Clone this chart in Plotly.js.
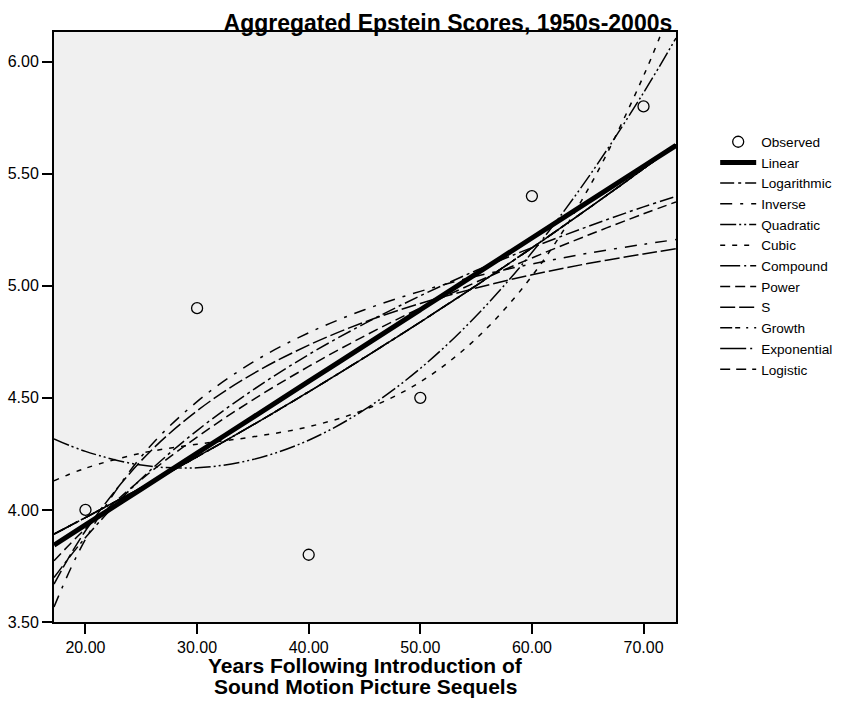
<!DOCTYPE html>
<html>
<head>
<meta charset="utf-8">
<script src="https://cdn.plot.ly/plotly-3.0.1.min.js"></script>
<style>html,body{margin:0;padding:0;background:#fff;}#chart{width:846px;height:704px;}</style>
</head>
<body>
<div id="chart"></div>
<script>
// Observed data
const xObs = [20, 30, 40, 50, 60, 70];
const yObs = [4.0, 4.9, 3.8, 4.5, 5.4, 5.8];

// Fitted curves, read at these x positions
const xFit = [17.18, 20, 25, 30, 35, 40, 45, 50, 55, 60, 65, 70, 72.91];
const yLinear      = [3.843, 3.933, 4.093, 4.253, 4.413, 4.573, 4.733, 4.893, 5.053, 5.213, 5.373, 5.533, 5.626];
const yLogarithmic = [3.698, 3.877, 4.139, 4.354, 4.535, 4.693, 4.831, 4.955, 5.068, 5.170, 5.264, 5.352, 5.399];
const yInverse     = [3.567, 3.869, 4.238, 4.483, 4.659, 4.790, 4.893, 4.975, 5.042, 5.097, 5.145, 5.185, 5.206];
const yQuadratic   = [4.317, 4.261, 4.200, 4.188, 4.225, 4.311, 4.447, 4.631, 4.865, 5.148, 5.480, 5.861, 6.105];
const yCubic       = [4.130, 4.186, 4.253, 4.293, 4.326, 4.371, 4.447, 4.571, 4.764, 5.043, 5.428, 5.936, 6.296];
const yCompound    = [3.892, 3.966, 4.099, 4.237, 4.379, 4.527, 4.680, 4.838, 5.001, 5.169, 5.343, 5.522, 5.630];
const yPower       = [3.773, 3.916, 4.136, 4.325, 4.491, 4.640, 4.776, 4.901, 5.016, 5.124, 5.225, 5.321, 5.374];
const yS           = [3.669, 3.907, 4.220, 4.442, 4.607, 4.735, 4.838, 4.921, 4.990, 5.049, 5.099, 5.142, 5.165];
const yGrowth      = [3.892, 3.966, 4.099, 4.237, 4.379, 4.527, 4.680, 4.838, 5.001, 5.169, 5.343, 5.522, 5.630];
const yExponential = [3.892, 3.966, 4.099, 4.237, 4.379, 4.527, 4.680, 4.838, 5.001, 5.169, 5.343, 5.522, 5.630];
const yLogistic    = [3.892, 3.966, 4.099, 4.237, 4.379, 4.527, 4.680, 4.838, 5.001, 5.169, 5.343, 5.522, 5.630];

const xTicks = [20, 30, 40, 50, 60, 70];
const yTicks = [3.5, 4.0, 4.5, 5.0, 5.5, 6.0];

const FONT = '"Liberation Sans", Arial, Helvetica, sans-serif';

const curves = [
  {name: 'Linear', y: yLinear, width: 5, dash: 'solid'},
  {name: 'Logarithmic', y: yLogarithmic, width: 1.5, dash: '14px,4px,3px,4px'},
  {name: 'Inverse', y: yInverse, width: 1.5, dash: '12px,8px,3px,8px'},
  {name: 'Quadratic', y: yQuadratic, width: 1.5, dash: '16px,3px,2px,3px,2px,3px'},
  {name: 'Cubic', y: yCubic, width: 1.5, dash: '5px,7px'},
  {name: 'Compound', y: yCompound, width: 1.5, dash: '20px,4px,2px,4px'},
  {name: 'Power', y: yPower, width: 1.5, dash: '10px,5px'},
  {name: 'S', y: yS, width: 1.5, dash: '15px,4px'},
  {name: 'Growth', y: yGrowth, width: 1.5, dash: '12px,3px,5px,6px,2px,6px'},
  {name: 'Exponential', y: yExponential, width: 1.5, dash: '26px,4px,2px,4px'},
  {name: 'Logistic', y: yLogistic, width: 1.5, dash: '10px,6px'}
];

const data = curves.map((c, i) => ({
  type: 'scatter', mode: 'lines', name: c.name, x: xFit, y: c.y,
  line: {color: '#000', width: c.width, dash: c.dash, shape: 'spline', smoothing: 1},
  legendrank: i + 2, hoverinfo: 'skip'
}));
data.push({
  type: 'scatter', mode: 'markers', name: 'Observed', x: xObs, y: yObs,
  marker: {symbol: 'circle-open', size: 11, color: '#000', line: {color: '#000', width: 1.3}},
  legendrank: 1
});

const layout = {
  width: 846, height: 704,
  paper_bgcolor: '#ffffff', plot_bgcolor: '#f0f0f0',
  margin: {l: 54, r: 170, t: 32, b: 82, autoexpand: false},
  font: {family: FONT, color: '#000', size: 15},
  title: {
    text: '<b>Aggregated Epstein Scores, 1950s-2000s</b>',
    font: {family: FONT, size: 23, color: '#000'},
    xref: 'paper', x: 0.994, xanchor: 'right',
    yref: 'container', y: 0.968, yanchor: 'middle'
  },
  xaxis: {
    range: [17.18, 72.91], tickvals: xTicks, tickformat: '.2f',
    ticks: 'outside', ticklen: 10, tickwidth: 2, tickcolor: '#000',
    showline: true, linecolor: '#000', linewidth: 2, mirror: true,
    showgrid: false, zeroline: false, tickfont: {size: 16, family: FONT},
    fixedrange: true, automargin: false
  },
  yaxis: {
    range: [3.5, 6.132], tickvals: yTicks, tickformat: '.2f',
    ticks: 'outside', ticklen: 10, tickwidth: 2, tickcolor: '#000',
    showline: true, linecolor: '#000', linewidth: 2, mirror: true,
    showgrid: false, zeroline: false, tickfont: {size: 16, family: FONT},
    fixedrange: true, automargin: false
  },
  legend: {
    x: 1.063, xanchor: 'left', y: 0.84, yanchor: 'top',
    font: {family: FONT, size: 13.6, color: '#000'},
    bgcolor: 'rgba(0,0,0,0)', borderwidth: 0, itemwidth: 36,
    traceorder: 'normal'
  },
  annotations: [
    {text: '<b>Years Following Introduction of</b>', xref: 'paper', yref: 'paper',
     x: 0.5, y: -(665 - 622) / 590, xanchor: 'center', yanchor: 'middle', showarrow: false,
     font: {family: FONT, size: 21, color: '#000'}},
    {text: '<b>Sound Motion Picture Sequels</b>', xref: 'paper', yref: 'paper',
     x: 0.5, y: -(686 - 622) / 590, xanchor: 'center', yanchor: 'middle', showarrow: false,
     font: {family: FONT, size: 21, color: '#000'}}
  ],
  showlegend: true
};

Plotly.newPlot('chart', data, layout, {displayModeBar: false, staticPlot: true});
</script>
</body>
</html>
